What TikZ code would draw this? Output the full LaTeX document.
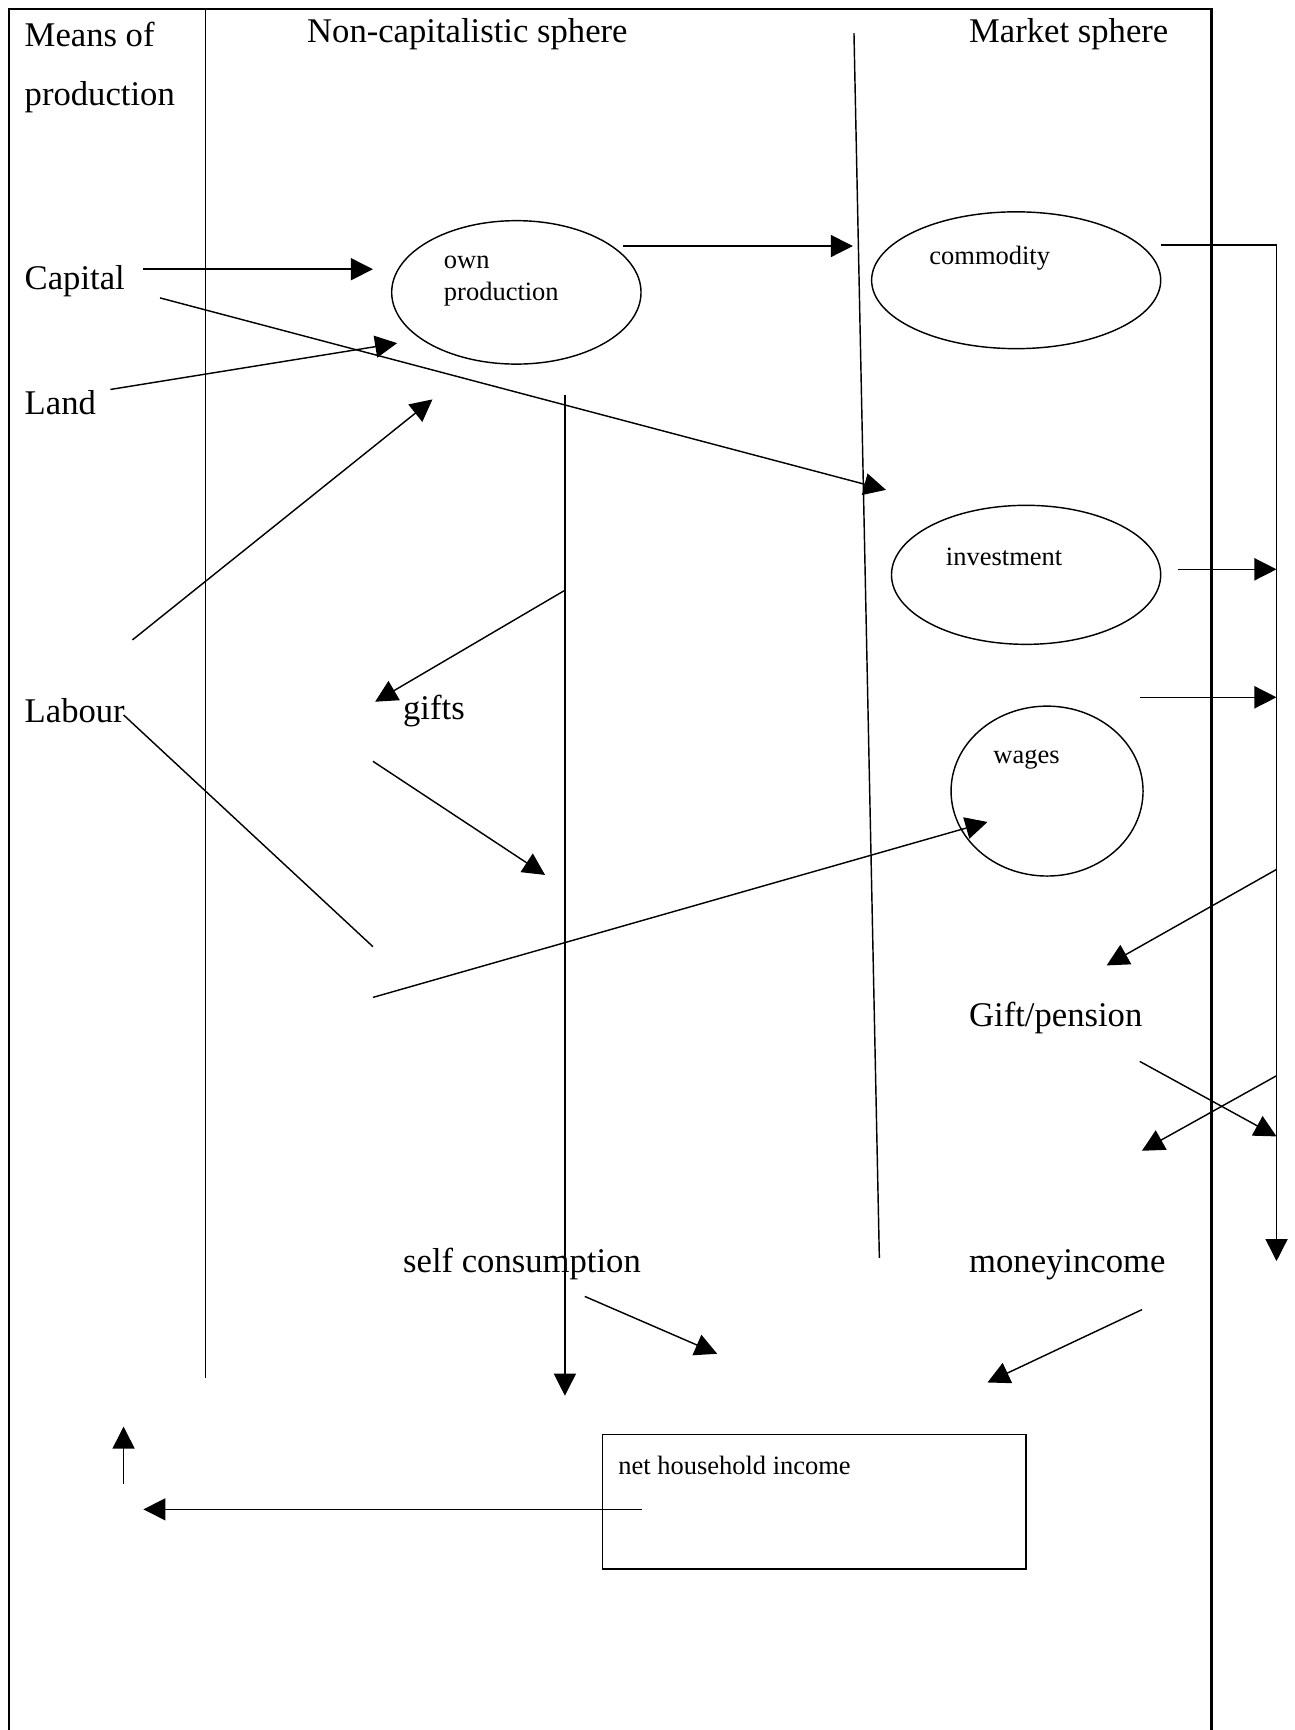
\documentclass[tikz,border=0pt]{standalone}
\usepackage{fontspec}
\setmainfont{Liberation Serif}
\usetikzlibrary{arrows.meta,shapes.geometric}
\tikzset{
  big/.style={anchor=west,inner sep=0pt,yshift=-1.5pt,font=\fontsize{15.7}{19}\selectfont},
  small/.style={anchor=west,inner sep=0pt,yshift=-1pt,font=\fontsize{12}{14}\selectfont},
  flow/.style={-{Triangle[length=10pt,width=10pt]},line width=0.65pt},
  thin/.style={line width=0.65pt},
  oval/.style={ellipse,draw,line width=0.65pt,inner sep=0pt},
}
\begin{document}
\begin{tikzpicture}[x=0.5pt,y=-0.5pt]
\useasboundingbox (0,0) rectangle (1173,1568);
% frame and columns
\draw[line width=1pt] (8,1568)--(8,8)--(1098,8)--(1098,1568);
\draw[thin] (186,8)--(186,1249);
\draw[thin] (774,30)--(797,1140);
% headings
\node[big] (mop1) at (22,28) {Means of};
\node[big] (mop2) at (22,85) {production};
\node[big] (ncs) at (278,28) {Non-capitalistic sphere};
\node[big] (ms) at (878,28) {Market sphere};
% left column
\node[big] (cap) at (22,252) {Capital};
\node[big] (land) at (22,362) {Land};
\node[big] (lab) at (22,641) {Labour};
% middle and right
\node[big] (gifts) at (365,641) {gifts};
\node[big] (gp) at (878,920) {Gift/pension};
\node[big] (sc) at (365,1143) {self consumption};
\node[big] (mi) at (878,1143) {moneyincome};
% ellipses
\node[oval,minimum width=113pt,minimum height=65pt] (own) at (468,265) {};
\node[small] (ownt1) at (402,236) {own};
\node[small] (ownt2) at (402,265) {production};
\node[oval,minimum width=131pt,minimum height=62pt] (com) at (921,254) {};
\node[small] (comt) at (842,232) {commodity};
\node[oval,minimum width=122pt,minimum height=63pt] (inv) at (930,521) {};
\node[small] (invt) at (857,503) {investment};
\node[oval,minimum width=87pt,minimum height=77pt] (wag) at (949,717) {};
\node[small] (wagt) at (900,686) {wages};
% net household income
\node[draw,thin,minimum width=192pt,minimum height=61pt,inner sep=0pt] (nhi) at (738,1361) {};
\node[small] (nhit) at (560,1326) {net household income};
% end points
\coordinate (a1) at (130,244);  \coordinate (a2) at (338,244);
\coordinate (b1) at (565,223);  \coordinate (b2) at (773,223);
\coordinate (r1) at (1052,222); \coordinate (r2) at (1157,1143);
\coordinate (k1) at (145,270);  \coordinate (k2) at (803,444);
\coordinate (l1) at (100,353);  \coordinate (l2) at (360,311);
\coordinate (w1) at (120,580);  \coordinate (w2) at (392,362);
\coordinate (s1) at (512,358);  \coordinate (s2) at (512,1265);
\coordinate (g0) at (512,535);  \coordinate (g1) at (340,636);
\coordinate (g2) at (338,690);  \coordinate (g3) at (494,793);
\coordinate (h1) at (112,648);  \coordinate (h2) at (338,858);
\coordinate (h3) at (338,904);  \coordinate (h4) at (895,745);
\coordinate (i1) at (1068,516); \coordinate (i2) at (1157,516);
\coordinate (j1) at (1033,632); \coordinate (j2) at (1157,632);
\coordinate (p1) at (1157,788); \coordinate (p2) at (1003,875);
\coordinate (q1) at (1033,962); \coordinate (q2) at (1157,1030);
\coordinate (m1) at (1157,975); \coordinate (m2) at (1035,1043);
\coordinate (t1) at (530,1175); \coordinate (t2) at (650,1227);
\coordinate (n1) at (1035,1187); \coordinate (n2) at (895,1253);
\coordinate (e1) at (582,1368); \coordinate (e2) at (130,1368);
\coordinate (u1) at (112,1345); \coordinate (u2) at (112,1293);
% flows
\draw[flow] (a1)--(a2);
\draw[flow] (b1)--(b2);
\draw[flow] (r1)-|(r2);
\draw[flow] (k1)--(k2);
\draw[flow] (l1)--(l2);
\draw[flow] (w1)--(w2);
\draw[flow] (s1)--(s2);
\draw[flow] (g0)--(g1);
\draw[flow] (g2)--(g3);
\draw[thin] (h1)--(h2);
\draw[flow] (h3)--(h4);
\draw[flow] (i1)--(i2);
\draw[flow] (j1)--(j2);
\draw[flow] (p1)--(p2);
\draw[flow] (q1)--(q2);
\draw[flow] (m1)--(m2);
\draw[flow] (t1)--(t2);
\draw[flow] (n1)--(n2);
\draw[flow] (e1)--(e2);
\draw[flow] (u1)--(u2);
\end{tikzpicture}
\end{document}
